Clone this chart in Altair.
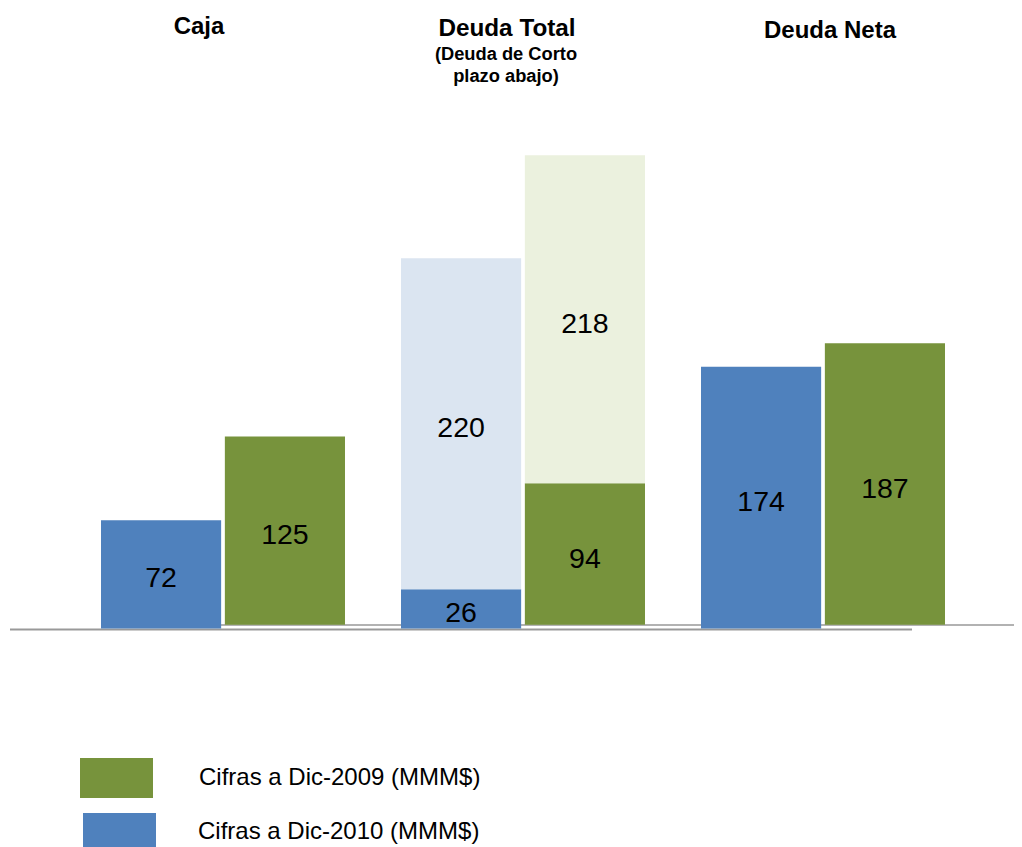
import altair as alt
import pandas as pd

# ---- data ----
categories = ["Caja", "Deuda Total", "Deuda Neta"]
series = ["Dic-2010", "Dic-2009"]
base_2010 = [72, 26, 174]      # Deuda Total: parte de corto plazo (abajo)
base_2009 = [125, 94, 187]
top_2010 = [0, 220, 0]         # Deuda Total: resto (arriba)
top_2009 = [0, 218, 0]
legend_labels = ["Cifras a Dic-2009 (MMM$)", "Cifras a Dic-2010 (MMM$)"]

# ---- styles ----
FONT = "Liberation Sans"
BLUE, GREEN = "#4F81BD", "#77933C"
LBLUE, LGREEN = "#DBE5F1", "#EBF1DE"

rows = []
for s, base, top in [("Dic-2010", base_2010, top_2010), ("Dic-2009", base_2009, top_2009)]:
    for c, b, t in zip(categories, base, top):
        rows.append(dict(grupo=c, serie=s, parte="corto", y0=0, y1=b, valor=b))
        if t > 0:
            rows.append(dict(grupo=c, serie=s, parte="resto", y0=b, y1=b + t, valor=t))
df = pd.DataFrame(rows)
df["clave"] = df["serie"] + "|" + df["parte"]
df["mid"] = (df["y0"] + df["y1"]) / 2
one = pd.DataFrame({"k": [0]})

x_enc = alt.X("grupo:N", sort=categories, axis=None,
              scale=alt.Scale(range=[93, 937], paddingInner=0.1867, paddingOuter=0))
xo_enc = alt.XOffset("serie:N", sort=series,
                     scale=alt.Scale(paddingInner=0.03, paddingOuter=0))
yscale = alt.Scale(domain=[0, 412.3], range=[620.5, 0], nice=False, zero=False)
color_enc = alt.Color("clave:N", legend=None, scale=alt.Scale(
    domain=["Dic-2010|corto", "Dic-2010|resto", "Dic-2009|corto", "Dic-2009|resto"],
    range=[BLUE, LBLUE, GREEN, LGREEN]))

base = alt.Chart(df).encode(x=x_enc, xOffset=xo_enc)

bars_2010 = base.transform_filter(alt.datum.serie == "Dic-2010").mark_bar().encode(
    y=alt.Y("y1:Q", scale=yscale, axis=None), y2="y0:Q", color=color_enc)
bars_2009 = base.transform_filter(alt.datum.serie == "Dic-2009").mark_bar(
    yOffset=-3.8, y2Offset=-3.8).encode(
    y=alt.Y("y1:Q", scale=yscale, axis=None), y2="y0:Q", color=color_enc)

lbl_2010 = base.transform_filter(alt.datum.serie == "Dic-2010").mark_text(
    font=FONT, fontSize=28.5, color="black", baseline="middle", dy=4).encode(
    y=alt.Y("mid:Q", scale=yscale, axis=None), text="valor:Q")
lbl_2009 = base.transform_filter(alt.datum.serie == "Dic-2009").mark_text(
    font=FONT, fontSize=28.5, color="black", baseline="middle", dy=1).encode(
    y=alt.Y("mid:Q", scale=yscale, axis=None), text="valor:Q")

# baselines (two overlapped axes, as in the reference)
line_2010 = alt.Chart(one).mark_rule(color="#999999", strokeWidth=2).encode(
    x=alt.value(2), x2=alt.value(904), y=alt.value(621.5))
line_2009 = alt.Chart(one).mark_rule(color="#999999", strokeWidth=1.5).encode(
    x=alt.value(213), x2=alt.value(1014), y=alt.value(617))

def txt(s, x, y, size, bold=True, align="center"):
    return alt.Chart(one).mark_text(
        font=FONT, fontSize=size, fontWeight="bold" if bold else "normal",
        align=align, baseline="alphabetic", color="black").encode(
        x=alt.value(x), y=alt.value(y), text=alt.value(s))

titles = [
    txt("Caja", 191, 26, 24),
    txt("Deuda Total", 499, 28, 24.3),
    txt("(Deuda de Corto", 498, 51.5, 18.3),
    txt("plazo abajo)", 498, 74, 18.3),
    txt("Deuda Neta", 822, 29.5, 24),
]

legend = [
    alt.Chart(one).mark_rect(color=GREEN).encode(
        x=alt.value(72), x2=alt.value(145), y=alt.value(750), y2=alt.value(790)),
    alt.Chart(one).mark_rect(color=BLUE).encode(
        x=alt.value(75), x2=alt.value(148), y=alt.value(805), y2=alt.value(852)),
    txt(legend_labels[0], 191, 777, 24, bold=False, align="left"),
    txt(legend_labels[1], 190, 831, 24, bold=False, align="left"),
]

chart = alt.layer(
    line_2010, line_2009, bars_2010, bars_2009, lbl_2010, lbl_2009, *titles, *legend
).properties(
    width=1006, height=839, padding=0,
    autosize=alt.AutoSizeParams(type="none"),
).configure_view(stroke=None)

chart.save("out.html", embed_options={"renderer": "svg", "actions": False})
